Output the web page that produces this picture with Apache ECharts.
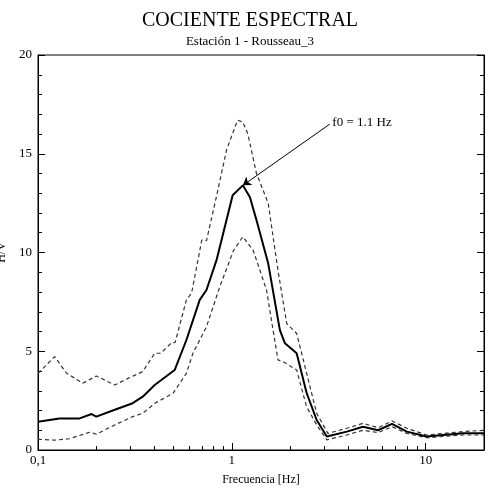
<!DOCTYPE html>
<html style="height: 100%">
<head>
    <meta charset="utf-8">
</head>
<body style="height: 100%; margin: 0; background: #fff">
    <div id="container" style="width: 500px; height: 500px"></div>
    <script type="text/javascript" src="https://cdn.jsdelivr.net/npm/echarts@6/dist/echarts.min.js"></script>
    <script type="text/javascript">
        // H/V mean curve and +/- std curves
        var meanFreq = [0.1, 0.129, 0.164, 0.189, 0.2, 0.243, 0.308, 0.347, 0.40, 0.507, 0.583, 0.683, 0.74, 0.833, 1.01, 1.14, 1.24, 1.34, 1.54, 1.77, 1.88, 2.16, 2.43, 2.74, 3.09, 3.92, 4.75, 5.68, 6.7, 8.0, 10.1, 15.6, 20];
        var meanHV = [1.43, 1.6, 1.6, 1.82, 1.69, 2.0, 2.37, 2.7, 3.29, 4.05, 5.57, 7.6, 8.1, 9.6, 12.9, 13.4, 12.8, 11.65, 9.45, 6.07, 5.4, 4.9, 2.9, 1.52, 0.68, 0.93, 1.18, 1.0, 1.32, 0.93, 0.68, 0.85, 0.85];

        var upFreq = [0.1, 0.122, 0.14, 0.17, 0.2, 0.249, 0.286, 0.347, 0.40, 0.43, 0.488, 0.51, 0.583, 0.62, 0.70, 0.74, 0.833, 0.94, 1.07, 1.14, 1.21, 1.34, 1.54, 1.73, 1.92, 2.16, 2.43, 2.74, 3.13, 3.92, 4.75, 5.68, 6.7, 8.0, 10.1, 15.6, 20];
        var upHV = [3.88, 4.73, 3.9, 3.38, 3.75, 3.29, 3.59, 3.97, 4.9, 4.9, 5.43, 5.45, 7.6, 7.94, 10.63, 10.6, 12.83, 15.2, 16.7, 16.6, 16.0, 14.0, 12.5, 9.1, 6.4, 5.9, 3.9, 1.86, 0.84, 1.1, 1.35, 1.13, 1.47, 1.1, 0.76, 0.93, 1.0];

        var lowFreq = [0.1, 0.122, 0.145, 0.185, 0.2, 0.249, 0.308, 0.347, 0.40, 0.497, 0.583, 0.63, 0.74, 0.867, 1.02, 1.14, 1.29, 1.51, 1.73, 1.84, 2.16, 2.43, 2.74, 3.09, 3.92, 4.75, 5.68, 6.7, 8.0, 10.1, 15.6, 20];
        var lowHV = [0.54, 0.5, 0.57, 0.9, 0.8, 1.27, 1.69, 1.86, 2.36, 2.87, 3.88, 4.9, 6.24, 8.27, 10.1, 10.8, 10.1, 8.1, 4.56, 4.47, 4.05, 2.19, 1.27, 0.51, 0.76, 1.0, 0.88, 1.18, 0.84, 0.62, 0.76, 0.76];

        var f0 = 1.14, f0HV = 13.4;

        function pairs(xs, ys) {
            return xs.map(function (x, i) { return [x, ys[i]]; });
        }

        var font = 'Liberation Serif';
        var myChart = echarts.init(document.getElementById('container'));

        var tickIn = { show: true, inside: true, length: 7, lineStyle: { color: '#000' } };
        var minorIn = { show: true, splitNumber: 5, length: 4, lineStyle: { color: '#000' } };

        var option = {
            animation: false,
            title: {
                text: 'COCIENTE ESPECTRAL',
                subtext: 'Estación 1 - Rousseau_3',
                left: 'center',
                top: 6,
                itemGap: 4,
                textStyle: { fontFamily: font, fontSize: 20, fontWeight: 'normal', color: '#000' },
                subtextStyle: { fontFamily: font, fontSize: 13, color: '#000' }
            },
            grid: {
                left: 38, right: 16, top: 55, bottom: 50, containLabel: false, outerBoundsMode: 'none',
                show: true, borderColor: '#000', borderWidth: 1
            },
            xAxis: [{
                type: 'log', min: 0.1, max: 20, logBase: 10,
                name: 'Frecuencia [Hz]', nameLocation: 'middle', nameGap: 24,
                nameTextStyle: { fontFamily: font, fontSize: 12, color: '#000' },
                axisLine: { lineStyle: { color: '#000' } },
                axisTick: tickIn,
                minorTick: { show: true, splitNumber: 9, length: 4, lineStyle: { color: '#000' } },
                splitLine: { show: false },
                axisLabel: {
                    fontFamily: font, fontSize: 13, color: '#000', margin: 4, showMaxLabel: false,
                    formatter: function (v) { return v < 1 ? String(v).replace('.', ',') : (v > 15 ? '' : String(v)); }
                }
            }],
            yAxis: [{
                type: 'value', min: 0, max: 20, interval: 5,
                name: 'H/V', nameLocation: 'middle', nameGap: 24,
                nameTextStyle: { fontFamily: font, fontSize: 12, color: '#000' },
                axisLine: { show: true, lineStyle: { color: '#000' } },
                axisTick: tickIn,
                minorTick: minorIn,
                splitLine: { show: false },
                axisLabel: { fontFamily: font, fontSize: 13, color: '#000', margin: 6 }
            }, {
                type: 'value', min: 0, max: 20, interval: 5, position: 'right',
                axisLine: { show: true, lineStyle: { color: '#000' } },
                axisTick: tickIn,
                minorTick: minorIn,
                splitLine: { show: false },
                axisLabel: { show: false }
            }],
            series: [{
                type: 'line', showSymbol: false, data: pairs(upFreq, upHV),
                lineStyle: { color: '#333', width: 1.2, type: [4, 3] }
            }, {
                type: 'line', showSymbol: false, data: pairs(lowFreq, lowHV),
                lineStyle: { color: '#333', width: 1.2, type: [4, 3] }
            }, {
                type: 'line', showSymbol: false, data: pairs(meanFreq, meanHV),
                lineStyle: { color: '#000', width: 2 },
                markLine: {
                    silent: true, symbol: ['none', 'arrow'], symbolSize: 8,
                    lineStyle: { color: '#000', width: 1, type: 'solid' },
                    label: { show: false },
                    data: [[{ coord: [3.2, 16.5] }, { coord: [f0, f0HV] }]]
                },
                markPoint: {
                    silent: true, symbol: 'circle', symbolSize: 0,
                    label: {
                        show: true, position: 'right', distance: 0,
                        formatter: 'f0 = 1.1 Hz',
                        fontFamily: font, fontSize: 13, color: '#000'
                    },
                    data: [{ coord: [3.3, 16.6] }]
                }
            }]
        };

        myChart.setOption(option);
    </script>
</body>
</html>
